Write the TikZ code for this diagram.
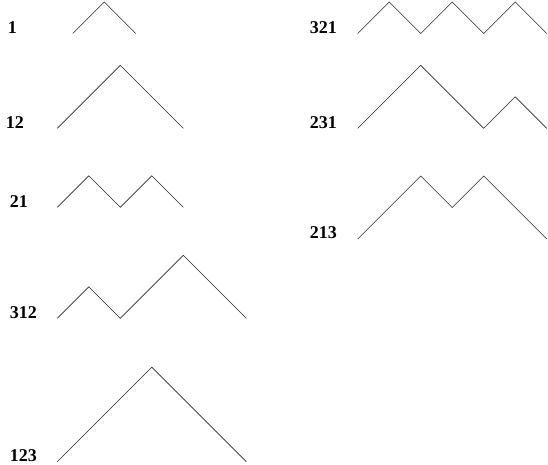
\documentclass[tikz,border=0pt]{standalone}
\usepackage{fontspec}
\setmainfont{Liberation Serif}
\tikzset{dyck/.style = {line width=0.6pt, black!85, line join=miter},
         perm/.style = {font=\bfseries\fontsize{18}{18}\selectfont,
                        anchor=base east, inner sep=0pt}}
% one lattice path: start point, then +1 (up) / -1 (down) steps
\newcommand{\dyckpath}[2]{\draw [dyck] #1 \foreach \s in {#2} { -- ++(31.5, \s*31.5) };}

\begin{document}
\begin{tikzpicture}[x=1pt, y=1pt]
    \useasboundingbox (0, 0) rectangle (548, 465);

    % left column
    \node [perm] (p1)   at (17, 431.5) {1};
    \node [perm] (p12)  at (24, 336.7) {12};
    \node [perm] (p21)  at (28, 257.7) {21};
    \node [perm] (p312) at (37, 146.7) {312};
    \node [perm] (p123) at (37, 3.3)   {123};

    \dyckpath{(72.8, 431.5)}{1, -1}
    \dyckpath{(57.3, 336.7)}{1, 1, -1, -1}
    \dyckpath{(57.3, 257.7)}{1, -1, 1, -1}
    \dyckpath{(57.3, 146.7)}{1, -1, 1, 1, -1, -1}
    \dyckpath{(57.3, 3.3)}{1, 1, 1, -1, -1, -1}

    % right column
    \node [perm] (p321) at (337, 431.5) {321};
    \node [perm] (p231) at (337, 336.7) {231};
    \node [perm] (p213) at (337, 226)   {213};

    \dyckpath{(357.7, 431.5)}{1, -1, 1, -1, 1, -1}
    \dyckpath{(357.7, 336.7)}{1, 1, -1, -1, 1, -1}
    \dyckpath{(357.7, 226)}{1, 1, -1, 1, -1, -1}
  \end{tikzpicture}
\end{document}
